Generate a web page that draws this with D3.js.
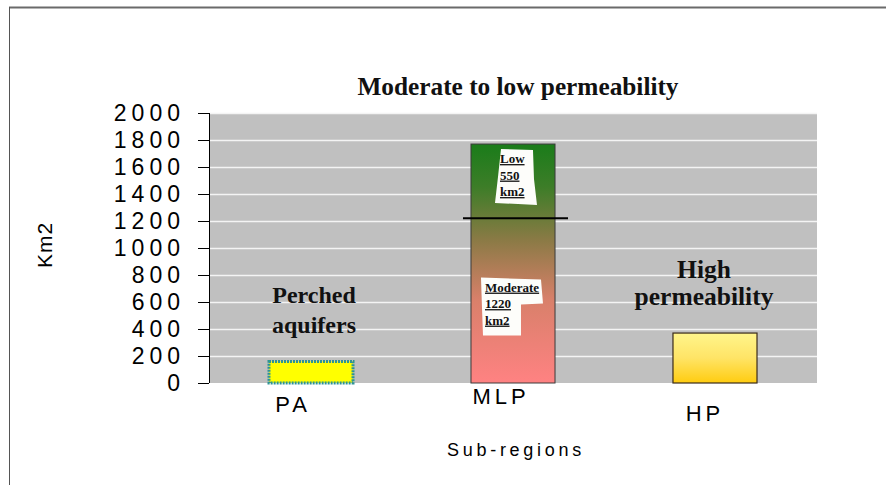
<!DOCTYPE html>
<html>
<head>
<meta charset="utf-8">
<script src="https://cdn.jsdelivr.net/npm/d3@7"></script>
<style>
  html, body { margin: 0; padding: 0; background: #fff; }
  svg { display: block; }
</style>
</head>
<body>
<svg id="chart" width="886" height="485"></svg>
<script>
// ---- data ----
const categories = ["PA", "MLP", "HP"];
const values = [160, 1770, 370];
const segmentNames = ["Moderate", "Low"];
const segmentValues = [1220, 550];
const yTicks = [0, 200, 400, 600, 800, 1000, 1200, 1400, 1600, 1800, 2000];
const chartTitle = "Moderate to low permeability";
const yTitle = "Km2";
const xTitle = "Sub-regions";
const groupNotes = [["Perched", "aquifers"], null, ["High", "permeability"]];

// ---- layout ----
const svg = d3.select("#chart");
const plot = { left: 209, right: 817, top: 113, bottom: 383 };

const x = d3.scaleBand().domain(categories)
  .range([plot.left, plot.right]).paddingInner(0.584).paddingOuter(0.297);
const y = d3.scaleLinear().domain([0, 2000]).range([plot.bottom, plot.top]);

// frame (top + left)
svg.append("line").attr("x1", 9).attr("x2", 886).attr("y1", 7.5).attr("y2", 7.5)
  .attr("stroke", "#6a6a6a").attr("stroke-width", 2);
svg.append("line").attr("x1", 9.5).attr("x2", 9.5).attr("y1", 7).attr("y2", 485)
  .attr("stroke", "#555").attr("stroke-width", 1);

// gradients
const defs = svg.append("defs");
const gM = defs.append("linearGradient").attr("id", "gMLP").attr("x1", 0).attr("x2", 0).attr("y1", 0).attr("y2", 1);
[["0%", "#1a7c1a"], ["18%", "#3d7d28"], ["40%", "#8a7a45"], ["65%", "#d8806a"], ["100%", "#ff8282"]]
  .forEach(s => gM.append("stop").attr("offset", s[0]).attr("stop-color", s[1]));
const gH = defs.append("linearGradient").attr("id", "gHP").attr("x1", 0).attr("x2", 0).attr("y1", 0).attr("y2", 1);
[["0%", "#fff58c"], ["50%", "#ffe466"], ["100%", "#ffcc10"]]
  .forEach(s => gH.append("stop").attr("offset", s[0]).attr("stop-color", s[1]));

// plot background
svg.append("rect").attr("x", plot.left).attr("y", plot.top)
  .attr("width", plot.right - plot.left).attr("height", plot.bottom - plot.top)
  .attr("fill", "#c0c0c0");

// gridlines
svg.append("g").selectAll("line").data(yTicks.filter(d => d > 0)).join("line")
  .attr("x1", plot.left).attr("x2", plot.right)
  .attr("y1", d => y(d) + 0.5).attr("y2", d => y(d) + 0.5)
  .attr("stroke", "#f4f4f4").attr("stroke-width", 1.5);

// y axis
const yAxis = d3.axisLeft(y).tickValues(yTicks).tickSize(11).tickFormat(d3.format("d"));
const ya = svg.append("g").attr("transform", `translate(${plot.left},0)`).call(yAxis);
ya.select(".domain").attr("stroke", "#000").attr("d", `M0.5,${plot.top}V${plot.bottom}`);
ya.selectAll(".tick line").attr("stroke", "#000");
ya.selectAll(".tick text")
  .attr("x", -24).attr("dy", "0.33em")
  .style("font-family", "Arial, 'Liberation Sans', sans-serif")
  .style("font-size", "23px").style("letter-spacing", "5px").attr("fill", "#000");

// bars
const bars = svg.append("g");
categories.forEach((c, i) => {
  const v = values[i];
  const r = bars.append("rect")
    .attr("x", x(c)).attr("y", y(v))
    .attr("width", x.bandwidth()).attr("height", y(0) - y(v));
  if (c === "PA") {
    r.attr("fill", "#ffff00").attr("stroke", "#2e9494").attr("stroke-width", 3)
     .attr("stroke-dasharray", "2 1");
  } else if (c === "MLP") {
    r.attr("fill", "url(#gMLP)").attr("stroke", "#3a3a3a").attr("stroke-width", 1);
  } else {
    r.attr("fill", "url(#gHP)").attr("stroke", "#3a2a1a").attr("stroke-width", 1.2);
  }
});

// MLP separator line at top of moderate segment
const sepY = y(segmentValues[0]);
svg.append("line")
  .attr("x1", x("MLP") - 8).attr("x2", x("MLP") + x.bandwidth() + 13)
  .attr("y1", sepY).attr("y2", sepY)
  .attr("stroke", "#000").attr("stroke-width", 2);

// segment labels with white blobs
function segLabel(lines, bx, by, blob) {
  const g = svg.append("g").attr("transform", `translate(${bx},${by})`);
  g.append("path").attr("d", blob).attr("fill", "#fdfdfa");
  g.selectAll("text").data(lines).join("text")
    .attr("x", 4).attr("y", (d, i) => 14 + i * 16.5)
    .text(d => d)
    .style("font-family", "'Times New Roman', 'Liberation Serif', serif")
    .style("font-weight", "bold").style("font-size", "13px")
    .style("text-decoration", "underline").attr("fill", "#111");
}
const lowTop = y(segmentValues[0] + segmentValues[1]);
segLabel([segmentNames[1], String(segmentValues[1]), "km2"],
  x("MLP") + 25, lowTop + 5,
  "M5,0 L37,1 L38,30 L41,56 L22,55 L-1,54 L2,28 Z");
segLabel([segmentNames[0], String(segmentValues[0]), "km2"],
  x("MLP") + 10, y(segmentValues[0] * 0.64),
  "M0,0 L60,2 L62,26 L40,27 L40,58 L2,58 L1,30 Z");

// group notes
groupNotes.forEach((lines, i) => {
  if (!lines) return;
  const cx = x(categories[i]) + x.bandwidth() / 2 + (i === 0 ? 3 : -11);
  const base = i === 0 ? 303 : 278;
  const gap = i === 0 ? 30 : 27;
  svg.append("g").selectAll("text").data(lines).join("text")
    .attr("x", cx).attr("y", (d, k) => base + k * gap)
    .attr("text-anchor", "middle").text(d => d)
    .style("font-family", "'Times New Roman', 'Liberation Serif', serif")
    .style("font-weight", "bold").style("font-size", i === 0 ? "24px" : "25.5px").attr("fill", "#111");
});

// x category labels
const labelOffsets = [[-18, 29], [-12, 21], [-10, 38]];
svg.append("g").selectAll("text").data(categories).join("text")
  .attr("x", (d, i) => x(d) + x.bandwidth() / 2 + labelOffsets[i][0])
  .attr("y", (d, i) => plot.bottom + labelOffsets[i][1])
  .attr("text-anchor", "middle").text(d => d)
  .style("font-family", "Arial, 'Liberation Sans', sans-serif")
  .style("font-size", "22px").style("letter-spacing", "4px").attr("fill", "#000");

// titles
svg.append("text").attr("x", 518).attr("y", 95).attr("text-anchor", "middle")
  .text(chartTitle)
  .style("font-family", "'Times New Roman', 'Liberation Serif', serif")
  .style("font-weight", "bold").style("font-size", "25.3px").attr("fill", "#111");

svg.append("text").attr("transform", "translate(52,245) rotate(-90)")
  .attr("text-anchor", "middle").text(yTitle)
  .style("font-family", "Arial, 'Liberation Sans', sans-serif")
  .style("font-size", "21px").style("letter-spacing", "1px").attr("fill", "#000");

svg.append("text").attr("x", 516).attr("y", 456).attr("text-anchor", "middle")
  .text(xTitle)
  .style("font-family", "Arial, 'Liberation Sans', sans-serif")
  .style("font-size", "18px").style("letter-spacing", "3.7px").attr("fill", "#000");
</script>
</body>
</html>
